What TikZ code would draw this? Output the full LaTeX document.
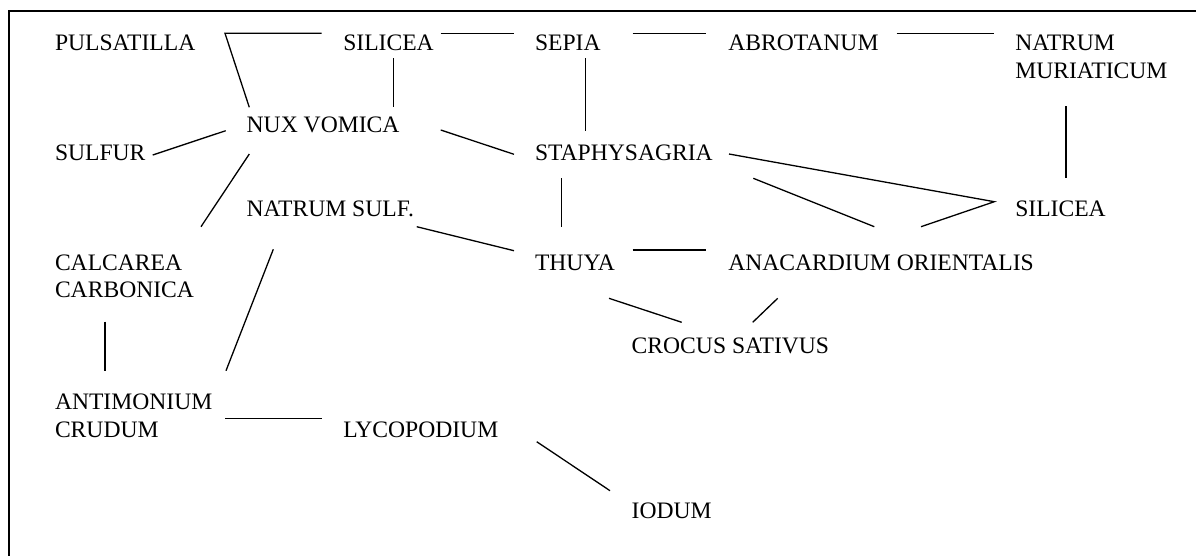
\documentclass[tikz,border=0pt]{standalone}
\usepackage{fontspec}
\setmainfont{Liberation Serif}
\begin{document}
\begin{tikzpicture}[x=1pt,y=-1pt,
  lbl/.style={anchor=base west, inner sep=0pt, outer sep=0pt, font=\fontsize{23.6}{27.7}\selectfont},
  link/.style={line width=1.3pt, line join=miter},
  framepath/.style={line width=1.6pt}]
\useasboundingbox (0,0) rectangle (1196,555);
% frame (cut off at right and bottom)
\coordinate (fbl) at (9,560);
\coordinate (ftl) at (9,11);
\coordinate (ftr) at (1200,11);
\draw[framepath] (fbl) -- (ftl) -- (ftr);

% labels
\newcommand{\twol}[2]{\begin{tabular}[t]{@{}l@{}}#1\\#2\end{tabular}}
\node[lbl] (pul)  at (55,50.7)    {PULSATILLA};
\node[lbl] (sil1) at (343.3,50.7) {SILICEA};
\node[lbl] (sep)  at (535,50.7)   {SEPIA};
\node[lbl] (abr)  at (728.3,50.7) {ABROTANUM};
\node[lbl] (natm) at (1015.3,50.7) {\twol{NATRUM}{MURIATICUM}};
\node[lbl] (nux)  at (246.7,132.3) {NUX VOMICA};
\node[lbl] (sul)  at (55,160)     {SULFUR};
\node[lbl] (sta)  at (535,160)    {STAPHYSAGRIA};
\node[lbl] (nats) at (246.7,216)  {NATRUM SULF.};
\node[lbl] (sil2) at (1015.3,216.7) {SILICEA};
\node[lbl] (cal)  at (55,270)     {\twol{CALCAREA}{CARBONICA}};
\node[lbl] (thu)  at (535,270)    {THUYA};
\node[lbl] (ana)  at (728.3,270)  {ANACARDIUM ORIENTALIS};
\node[lbl] (cro)  at (631.7,353.3) {CROCUS SATIVUS};
\node[lbl] (ant)  at (55,409.3)   {\twol{ANTIMONIUM}{CRUDUM}};
\node[lbl] (lyc)  at (343.3,437.3) {LYCOPODIUM};
\node[lbl] (iod)  at (631.7,518.3) {IODUM};

% connector end points
\coordinate (c1)  at (225,33.3);
\coordinate (c1b) at (321.7,33.3);
\coordinate (c2b) at (249.3,107.3);
\coordinate (c3a) at (393.3,58.3);
\coordinate (c3b) at (393.3,107.3);
\coordinate (c4a) at (440.7,33.3);
\coordinate (c4b) at (514,33.3);
\coordinate (c5a) at (632.7,33.3);
\coordinate (c5b) at (705.7,33.3);
\coordinate (c6a) at (896.7,33.3);
\coordinate (c6b) at (994.3,33.3);
\coordinate (c7a) at (585.3,58.3);
\coordinate (c7b) at (585.3,130.7);
\coordinate (c8a) at (152.7,155);
\coordinate (c8b) at (225.7,130.7);
\coordinate (c9a) at (440.7,130);
\coordinate (c9b) at (514,154.3);
\coordinate (c10a) at (249.3,154);
\coordinate (c10b) at (201,226.7);
\coordinate (c11a) at (1066,106);
\coordinate (c11b) at (1066,178.3);
\coordinate (c12a) at (729,154);
\coordinate (c12) at (994.3,201.7);
\coordinate (c12b) at (921,226.7);
\coordinate (c13a) at (753.3,178.3);
\coordinate (c13b) at (874.3,226.7);
\coordinate (c14a) at (561.7,178.3);
\coordinate (c14b) at (561.7,226.7);
\coordinate (c15a) at (416.7,226.7);
\coordinate (c15b) at (514,250.7);
\coordinate (c16a) at (273.3,249.3);
\coordinate (c16b) at (226,370.7);
\coordinate (c17a) at (105,321.7);
\coordinate (c17b) at (105,370.7);
\coordinate (c18a) at (632.7,250);
\coordinate (c18b) at (705.7,250);
\coordinate (c19a) at (609,298.3);
\coordinate (c19b) at (681.7,322.3);
\coordinate (c20a) at (777.7,298.3);
\coordinate (c20b) at (752.7,322.3);
\coordinate (c21a) at (225,418.3);
\coordinate (c21b) at (321.7,418.3);
\coordinate (c22a) at (536.7,441.7);
\coordinate (c22b) at (610,490.7);

% connectors
\draw[link] (c1b) -- (c1) -- (c2b);
\draw[link] (c3a) -- (c3b);
\draw[link] (c4a) -- (c4b);
\draw[link] (c5a) -- (c5b);
\draw[link] (c6a) -- (c6b);
\draw[link] (c7a) -- (c7b);
\draw[link] (c8a) -- (c8b);
\draw[link] (c9a) -- (c9b);
\draw[link] (c10a) -- (c10b);
\draw[link] (c11a) -- (c11b);
\draw[link] (c12a) -- (c12) -- (c12b);
\draw[link] (c13a) -- (c13b);
\draw[link] (c14a) -- (c14b);
\draw[link] (c15a) -- (c15b);
\draw[link] (c16a) -- (c16b);
\draw[link] (c17a) -- (c17b);
\draw[link] (c18a) -- (c18b);
\draw[link] (c19a) -- (c19b);
\draw[link] (c20a) -- (c20b);
\draw[link] (c21a) -- (c21b);
\draw[link] (c22a) -- (c22b);
\end{tikzpicture}
\end{document}
